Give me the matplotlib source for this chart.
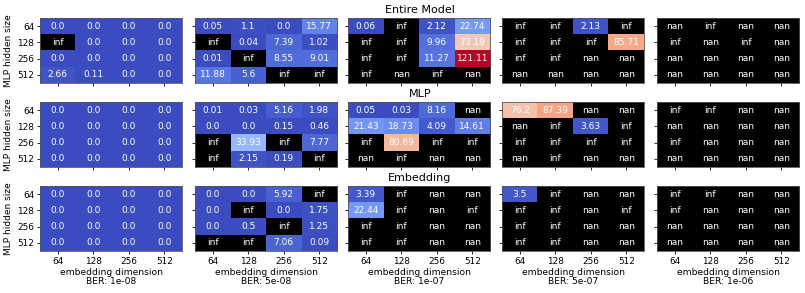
import numpy as np
import matplotlib
matplotlib.use('Agg')
import matplotlib.pyplot as plt

inf = np.inf
nan = np.nan

hidden_sizes = [64, 128, 256, 512]
embed_dims = [64, 128, 256, 512]
bers = ['1e-08', '5e-08', '1e-07', '5e-07', '1e-06']
row_titles = ['Entire Model', 'MLP', 'Embedding']

# rows: MLP hidden size, cols: embedding dimension
entire_model = [
    [[0.0, 0.0, 0.0, 0.0], [inf, 0.0, 0.0, 0.0], [0.0, 0.0, 0.0, 0.0], [2.66, 0.11, 0.0, 0.0]],
    [[0.05, 1.1, 0.0, 15.77], [inf, 0.04, 7.39, 1.02], [0.01, inf, 8.55, 9.01], [11.88, 5.6, inf, inf]],
    [[0.06, inf, 2.12, 22.74], [inf, inf, 9.96, 73.19], [inf, inf, 11.27, 121.11], [inf, nan, inf, nan]],
    [[inf, inf, 2.13, inf], [inf, inf, inf, 85.71], [inf, inf, nan, nan], [nan, nan, nan, nan]],
    [[nan, inf, nan, nan], [inf, nan, inf, nan], [nan, nan, nan, nan], [nan, nan, nan, nan]],
]
mlp = [
    [[0.0, 0.0, 0.0, 0.0], [0.0, 0.0, 0.0, 0.0], [0.0, 0.0, 0.0, 0.0], [0.0, 0.0, 0.0, 0.0]],
    [[0.01, 0.03, 5.16, 1.98], [0.0, 0.0, 0.15, 0.46], [inf, 33.93, inf, 7.77], [inf, 2.15, 0.19, inf]],
    [[0.05, 0.03, 8.16, nan], [21.43, 18.73, 4.09, 14.61], [inf, 80.69, inf, inf], [nan, inf, nan, nan]],
    [[76.2, 87.39, nan, nan], [nan, inf, 3.63, inf], [inf, inf, inf, inf], [nan, inf, nan, nan]],
    [[inf, inf, nan, nan], [nan, nan, nan, nan], [inf, nan, nan, nan], [nan, nan, nan, nan]],
]
embedding = [
    [[0.0, 0.0, 0.0, 0.0], [0.0, 0.0, 0.0, 0.0], [0.0, 0.0, 0.0, 0.0], [0.0, 0.0, 0.0, 0.0]],
    [[0.0, 0.0, 5.92, inf], [0.0, inf, 0.0, 1.75], [0.0, 0.5, inf, 1.25], [inf, inf, 7.06, 0.09]],
    [[3.39, inf, nan, nan], [22.44, inf, nan, inf], [inf, inf, nan, nan], [inf, inf, nan, nan]],
    [[3.5, inf, nan, nan], [inf, inf, nan, inf], [inf, inf, nan, nan], [inf, inf, nan, nan]],
    [[inf, inf, nan, nan], [inf, nan, nan, nan], [nan, nan, nan, nan], [nan, nan, nan, nan]],
]

all_data = [entire_model, mlp, embedding]
finite = [v for grp in all_data for m in grp for r in m for v in r if np.isfinite(v)]
vmax = max(finite)

cmap = plt.get_cmap('coolwarm').copy()
cmap.set_bad('black')

W, H = 805, 293
fig = plt.figure(figsize=(W / 100, H / 100), dpi=100)

# pixel layout
col_left = [40, 195, 348, 502, 657]
col_w = 142
row_top = [18, 102, 186]
row_h = 65
title_y = [10, 94, 178]

for r in range(3):
    fig.text(420 / W, 1 - title_y[r] / H, row_titles[r], ha='center', va='center', fontsize=8)
    for c in range(5):
        ax = fig.add_axes([col_left[c] / W, 1 - (row_top[r] + row_h) / H, col_w / W, row_h / H])
        arr = np.array(all_data[r][c], dtype=float)
        masked = np.ma.masked_invalid(arr)
        ax.imshow(masked, cmap=cmap, vmin=0, vmax=vmax, aspect='auto', interpolation='nearest')
        for i in range(4):
            for j in range(4):
                v = arr[i, j]
                if np.isnan(v):
                    s = 'nan'
                elif np.isinf(v):
                    s = 'inf'
                else:
                    s = str(round(v, 2))
                ax.text(j, i, s, ha='center', va='center', color='white', fontsize=6.5)
        ax.set_xticks(range(4))
        ax.set_yticks(range(4))
        ax.tick_params(length=2.5, width=0.6, labelsize=6.4, pad=1.5)
        for sp in ax.spines.values():
            sp.set_linewidth(0.6)
            sp.set_color('#555555')
        if c == 0:
            ax.set_yticklabels(hidden_sizes)
            ax.set_ylabel('MLP hidden size', fontsize=6.5, labelpad=3)
        else:
            ax.set_yticklabels([])
        if r == 2:
            ax.set_xticklabels(embed_dims)
            ax.set_xlabel('embedding dimension\nBER: ' + bers[c], fontsize=6.6, labelpad=2, linespacing=1.0)
        else:
            ax.set_xticklabels([])

fig.savefig('out.png', dpi=100)
